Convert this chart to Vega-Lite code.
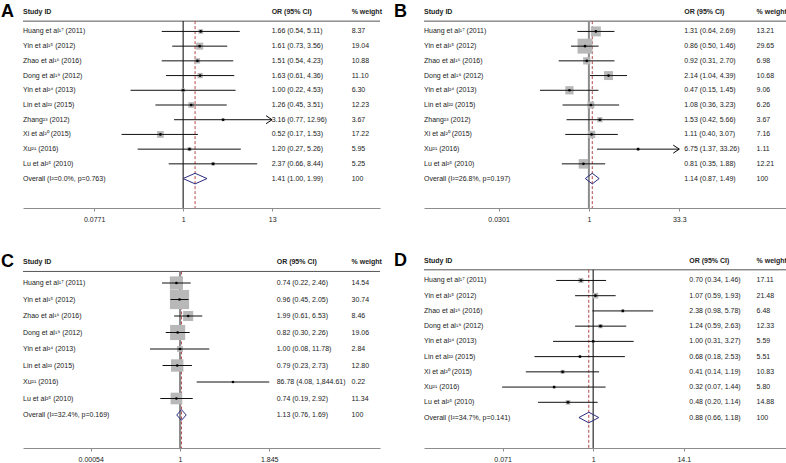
{
"$schema": "https://vega.github.io/schema/vega-lite/v6.json",
"padding": {"left": 1, "top": 2, "right": 0, "bottom": 0},
"background": "white",
"config": {
  "view": {"stroke": null},
  "font": "Liberation Sans",
  "axis": {"grid": false},
  "axisX": {"domainColor": "#8c8c8c", "tickColor": "#8c8c8c", "tickSize": 3, "labelFontSize": 7, "labelColor": "#222", "labelPadding": 4, "labelFont": "Liberation Sans", "labelOverlap": false, "labelFlush": false},
  "axisY": {"disable": true},
  "text": {"font": "Liberation Sans", "fontSize": 7, "color": "#222", "baseline": "middle"}
},
"datasets": {
  "A": [
    {"study": "Huang et al¹⁷ (2011)", "row": 1, "or": 1.66, "lo": 0.54, "hi": 5.11, "ci": "1.66 (0.54, 5.11)", "weight": 8.37, "wt": "8.37", "type": "study"},
    {"study": "Yin et al¹⁵ (2012)", "row": 2, "or": 1.61, "lo": 0.73, "hi": 3.56, "ci": "1.61 (0.73, 3.56)", "weight": 19.04, "wt": "19.04", "type": "study"},
    {"study": "Zhao et al¹⁶ (2016)", "row": 3, "or": 1.51, "lo": 0.54, "hi": 4.23, "ci": "1.51 (0.54, 4.23)", "weight": 10.88, "wt": "10.88", "type": "study"},
    {"study": "Dong et al¹⁹ (2012)", "row": 4, "or": 1.63, "lo": 0.61, "hi": 4.36, "ci": "1.63 (0.61, 4.36)", "weight": 11.10, "wt": "11.10", "type": "study"},
    {"study": "Yin et al²⁴ (2013)", "row": 5, "or": 1.00, "lo": 0.22, "hi": 4.53, "ci": "1.00 (0.22, 4.53)", "weight": 6.30, "wt": "6.30", "type": "study"},
    {"study": "Lin et al²² (2015)", "row": 6, "or": 1.26, "lo": 0.45, "hi": 3.51, "ci": "1.26 (0.45, 3.51)", "weight": 12.23, "wt": "12.23", "type": "study"},
    {"study": "Zhang²³ (2012)", "row": 7, "or": 3.16, "lo": 0.77, "hi": 12.96, "ci": "3.16 (0.77, 12.96)", "weight": 3.67, "wt": "3.67", "type": "study"},
    {"study": "Xi et al²⁰ (2015)", "row": 8, "or": 0.52, "lo": 0.17, "hi": 1.53, "ci": "0.52 (0.17, 1.53)", "weight": 17.22, "wt": "17.22", "type": "study"},
    {"study": "Xu²¹ (2016)", "row": 9, "or": 1.20, "lo": 0.27, "hi": 5.26, "ci": "1.20 (0.27, 5.26)", "weight": 5.95, "wt": "5.95", "type": "study"},
    {"study": "Lu et al²⁵ (2010)", "row": 10, "or": 2.37, "lo": 0.66, "hi": 8.44, "ci": "2.37 (0.66, 8.44)", "weight": 5.25, "wt": "5.25", "type": "study"},
    {"study": "Overall (I²=0.0%, p=0.763)", "row": 11, "or": 1.41, "lo": 1.00, "hi": 1.99, "ci": "1.41 (1.00, 1.99)", "weight": 100, "wt": "100", "type": "overall"}
  ],
  "B": [
    {"study": "Huang et al¹⁷ (2011)", "row": 1, "or": 1.31, "lo": 0.64, "hi": 2.69, "ci": "1.31 (0.64, 2.69)", "weight": 13.21, "wt": "13.21", "type": "study"},
    {"study": "Yin et al¹⁵ (2012)", "row": 2, "or": 0.86, "lo": 0.50, "hi": 1.46, "ci": "0.86 (0.50, 1.46)", "weight": 29.65, "wt": "29.65", "type": "study"},
    {"study": "Zhao et al¹⁶ (2016)", "row": 3, "or": 0.92, "lo": 0.31, "hi": 2.70, "ci": "0.92 (0.31, 2.70)", "weight": 6.98, "wt": "6.98", "type": "study"},
    {"study": "Dong et al¹⁹ (2012)", "row": 4, "or": 2.14, "lo": 1.04, "hi": 4.39, "ci": "2.14 (1.04, 4.39)", "weight": 10.68, "wt": "10.68", "type": "study"},
    {"study": "Yin et al²⁴ (2013)", "row": 5, "or": 0.47, "lo": 0.15, "hi": 1.45, "ci": "0.47 (0.15, 1.45)", "weight": 9.06, "wt": "9.06", "type": "study"},
    {"study": "Lin et al²² (2015)", "row": 6, "or": 1.08, "lo": 0.36, "hi": 3.23, "ci": "1.08 (0.36, 3.23)", "weight": 6.26, "wt": "6.26", "type": "study"},
    {"study": "Zhang²³ (2012)", "row": 7, "or": 1.53, "lo": 0.42, "hi": 5.66, "ci": "1.53 (0.42, 5.66)", "weight": 3.67, "wt": "3.67", "type": "study"},
    {"study": "Xi et al²⁰ (2015)", "row": 8, "or": 1.11, "lo": 0.40, "hi": 3.07, "ci": "1.11 (0.40, 3.07)", "weight": 7.16, "wt": "7.16", "type": "study"},
    {"study": "Xu²¹ (2016)", "row": 9, "or": 6.75, "lo": 1.37, "hi": 33.26, "ci": "6.75 (1.37, 33.26)", "weight": 1.11, "wt": "1.11", "type": "study"},
    {"study": "Lu et al²⁵ (2010)", "row": 10, "or": 0.81, "lo": 0.35, "hi": 1.88, "ci": "0.81 (0.35, 1.88)", "weight": 12.21, "wt": "12.21", "type": "study"},
    {"study": "Overall (I²=26.8%, p=0.197)", "row": 11, "or": 1.14, "lo": 0.87, "hi": 1.49, "ci": "1.14 (0.87, 1.49)", "weight": 100, "wt": "100", "type": "overall"}
  ],
  "C": [
    {"study": "Huang et al¹⁷ (2011)", "row": 1, "or": 0.74, "lo": 0.22, "hi": 2.46, "ci": "0.74 (0.22, 2.46)", "weight": 14.54, "wt": "14.54", "type": "study"},
    {"study": "Yin et al¹⁵ (2012)", "row": 2, "or": 0.96, "lo": 0.45, "hi": 2.05, "ci": "0.96 (0.45, 2.05)", "weight": 30.74, "wt": "30.74", "type": "study"},
    {"study": "Zhao et al¹⁶ (2016)", "row": 3, "or": 1.99, "lo": 0.61, "hi": 6.53, "ci": "1.99 (0.61, 6.53)", "weight": 8.46, "wt": "8.46", "type": "study"},
    {"study": "Dong et al¹⁹ (2012)", "row": 4, "or": 0.82, "lo": 0.30, "hi": 2.26, "ci": "0.82 (0.30, 2.26)", "weight": 19.06, "wt": "19.06", "type": "study"},
    {"study": "Yin et al²⁴ (2013)", "row": 5, "or": 1.00, "lo": 0.08, "hi": 11.78, "ci": "1.00 (0.08, 11.78)", "weight": 2.84, "wt": "2.84", "type": "study"},
    {"study": "Lin et al²² (2015)", "row": 6, "or": 0.79, "lo": 0.23, "hi": 2.73, "ci": "0.79 (0.23, 2.73)", "weight": 12.80, "wt": "12.80", "type": "study"},
    {"study": "Xu²¹ (2016)", "row": 7, "or": 86.78, "lo": 4.08, "hi": 1844.61, "ci": "86.78 (4.08, 1,844.61)", "weight": 0.22, "wt": "0.22", "type": "study"},
    {"study": "Lu et al²⁵ (2010)", "row": 8, "or": 0.74, "lo": 0.19, "hi": 2.92, "ci": "0.74 (0.19, 2.92)", "weight": 11.34, "wt": "11.34", "type": "study"},
    {"study": "Overall (I²=32.4%, p=0.169)", "row": 9, "or": 1.13, "lo": 0.76, "hi": 1.69, "ci": "1.13 (0.76, 1.69)", "weight": 100, "wt": "100", "type": "overall"}
  ],
  "D": [
    {"study": "Huang et al¹⁷ (2011)", "row": 1, "or": 0.70, "lo": 0.34, "hi": 1.46, "ci": "0.70 (0.34, 1.46)", "weight": 17.11, "wt": "17.11", "type": "study"},
    {"study": "Yin et al¹⁵ (2012)", "row": 2, "or": 1.07, "lo": 0.59, "hi": 1.93, "ci": "1.07 (0.59, 1.93)", "weight": 21.48, "wt": "21.48", "type": "study"},
    {"study": "Zhao et al¹⁶ (2016)", "row": 3, "or": 2.38, "lo": 0.98, "hi": 5.78, "ci": "2.38 (0.98, 5.78)", "weight": 6.48, "wt": "6.48", "type": "study"},
    {"study": "Dong et al¹⁹ (2012)", "row": 4, "or": 1.24, "lo": 0.59, "hi": 2.63, "ci": "1.24 (0.59, 2.63)", "weight": 12.33, "wt": "12.33", "type": "study"},
    {"study": "Yin et al²⁴ (2013)", "row": 5, "or": 1.00, "lo": 0.31, "hi": 3.27, "ci": "1.00 (0.31, 3.27)", "weight": 5.59, "wt": "5.59", "type": "study"},
    {"study": "Lin et al²² (2015)", "row": 6, "or": 0.68, "lo": 0.18, "hi": 2.53, "ci": "0.68 (0.18, 2.53)", "weight": 5.51, "wt": "5.51", "type": "study"},
    {"study": "Xi et al²⁰ (2015)", "row": 7, "or": 0.41, "lo": 0.14, "hi": 1.19, "ci": "0.41 (0.14, 1.19)", "weight": 10.83, "wt": "10.83", "type": "study"},
    {"study": "Xu²¹ (2016)", "row": 8, "or": 0.32, "lo": 0.07, "hi": 1.44, "ci": "0.32 (0.07, 1.44)", "weight": 5.80, "wt": "5.80", "type": "study"},
    {"study": "Lu et al²⁵ (2010)", "row": 9, "or": 0.48, "lo": 0.20, "hi": 1.14, "ci": "0.48 (0.20, 1.14)", "weight": 14.88, "wt": "14.88", "type": "study"},
    {"study": "Overall (I²=34.7%, p=0.141)", "row": 10, "or": 0.88, "lo": 0.66, "hi": 1.18, "ci": "0.88 (0.66, 1.18)", "weight": 100, "wt": "100", "type": "overall"}
  ]
},
"spacing": 28,
"resolve": {"scale": {"size": "independent"}},
"vconcat": [
 {"spacing": 12, "resolve": {"scale": {"size": "independent"}}, "hconcat": [
  {"width": 357, "height": 206,
   "data": {"name": "A"},
   "layer": [
    {"data": {"values": [{}]}, "mark": {"type": "rule", "color": "#555", "strokeWidth": 1},
     "encoding": {"y": {"datum": 0.3, "type": "quantitative", "scale": {"domain": [-1, 13], "reverse": true, "nice": false, "zero": false}}}},
    {"data": {"values": [{}]}, "mark": {"type": "rule", "color": "#000", "strokeWidth": 1},
     "encoding": {"x": {"datum": 1, "type": "quantitative", "scale": {"type": "log", "domain": [0.00994, 289.7], "nice": false}, "axis": {"values": [0.0771, 1, 13], "format": ",", "title": null}},
       "y": {"datum": 0.3, "type": "quantitative"}, "y2": {"datum": 13}}},
    {"transform": [{"filter": "datum.type == 'overall'"}], "mark": {"type": "rule", "color": "#b5484a", "strokeDash": [3, 2], "strokeWidth": 1},
     "encoding": {"x": {"field": "or", "type": "quantitative"}, "y": {"datum": 0.3, "type": "quantitative"}, "y2": {"datum": 13}}},
    {"transform": [{"filter": "datum.type == 'study'"}], "mark": {"type": "square", "color": "#b8b8b8", "opacity": 1},
     "encoding": {"x": {"field": "or", "type": "quantitative"}, "y": {"field": "row", "type": "quantitative"}, "size": {"field": "weight", "type": "quantitative", "scale": {"domain": [0, 100], "range": [0, 260]}, "legend": null}}},
    {"transform": [{"filter": "datum.type == 'study'"}], "mark": {"type": "rule", "color": "#111", "strokeWidth": 1},
     "encoding": {"x": {"field": "lo", "type": "quantitative"}, "x2": {"field": "hi"}, "y": {"field": "row", "type": "quantitative"}}},
    {"transform": [{"filter": "datum.type == 'study'"}], "mark": {"type": "circle", "color": "#000", "size": 7, "opacity": 1},
     "encoding": {"x": {"field": "or", "type": "quantitative"}, "y": {"field": "row", "type": "quantitative"}}},
    {"transform": [{"filter": "datum.type == 'study' && datum.hi > 12.9"}], "mark": {"type": "point", "shape": "M-1.5,-1L0,0L-1.5,1", "size": 64, "filled": false, "color": "#000", "strokeWidth": 1, "opacity": 1},
     "encoding": {"x": {"field": "hi", "type": "quantitative"}, "y": {"field": "row", "type": "quantitative"}}},
    {"transform": [{"filter": "datum.type == 'overall'"}], "mark": {"type": "rule", "color": "#2b2b80", "y2Offset": -5.3},
     "encoding": {"x": {"field": "lo", "type": "quantitative"}, "x2": {"field": "or"}, "y": {"field": "row", "type": "quantitative"}, "y2": {"field": "row"}}},
    {"transform": [{"filter": "datum.type == 'overall'"}], "mark": {"type": "rule", "color": "#2b2b80", "y2Offset": 5.3},
     "encoding": {"x": {"field": "lo", "type": "quantitative"}, "x2": {"field": "or"}, "y": {"field": "row", "type": "quantitative"}, "y2": {"field": "row"}}},
    {"transform": [{"filter": "datum.type == 'overall'"}], "mark": {"type": "rule", "color": "#2b2b80", "yOffset": -5.3},
     "encoding": {"x": {"field": "or", "type": "quantitative"}, "x2": {"field": "hi"}, "y": {"field": "row", "type": "quantitative"}, "y2": {"field": "row"}}},
    {"transform": [{"filter": "datum.type == 'overall'"}], "mark": {"type": "rule", "color": "#2b2b80", "yOffset": 5.3},
     "encoding": {"x": {"field": "or", "type": "quantitative"}, "x2": {"field": "hi"}, "y": {"field": "row", "type": "quantitative"}, "y2": {"field": "row"}}},
    {"mark": {"type": "text", "align": "left"},
     "encoding": {"x": {"datum": 0.00994, "type": "quantitative"}, "y": {"field": "row", "type": "quantitative"}, "text": {"field": "study"}}},
    {"mark": {"type": "text", "align": "left"},
     "encoding": {"x": {"datum": 12.8, "type": "quantitative"}, "y": {"field": "row", "type": "quantitative"}, "text": {"field": "ci"}}},
    {"mark": {"type": "text", "align": "left"},
     "encoding": {"x": {"datum": 128, "type": "quantitative"}, "y": {"field": "row", "type": "quantitative"}, "text": {"field": "wt"}}},
    {"data": {"values": [{}]}, "mark": {"type": "text", "align": "left", "fontWeight": "bold"},
     "encoding": {"x": {"datum": 0.00994, "type": "quantitative"}, "y": {"datum": -0.3, "type": "quantitative"}, "text": {"value": "Study ID"}}},
    {"data": {"values": [{}]}, "mark": {"type": "text", "align": "left", "fontWeight": "bold"},
     "encoding": {"x": {"datum": 12.8, "type": "quantitative"}, "y": {"datum": -0.3, "type": "quantitative"}, "text": {"value": "OR (95% CI)"}}},
    {"data": {"values": [{}]}, "mark": {"type": "text", "align": "left", "fontWeight": "bold"},
     "encoding": {"x": {"datum": 128, "type": "quantitative"}, "y": {"datum": -0.3, "type": "quantitative"}, "text": {"value": "% weight"}}},
    {"data": {"values": [{}]}, "mark": {"type": "text", "align": "left", "fontWeight": "bold", "fontSize": 18, "color": "#000", "dx": -22},
     "encoding": {"x": {"datum": 0.00994, "type": "quantitative"}, "y": {"datum": -0.3, "type": "quantitative"}, "text": {"value": "A"}}}
   ]},
  {"width": 362, "height": 206,
   "data": {"name": "B"},
   "layer": [
    {"data": {"values": [{}]}, "mark": {"type": "rule", "color": "#555", "strokeWidth": 1},
     "encoding": {"y": {"datum": 0.3, "type": "quantitative", "scale": {"domain": [-1, 13], "reverse": true, "nice": false, "zero": false}}}},
    {"data": {"values": [{}]}, "mark": {"type": "rule", "color": "#8c8c8c", "strokeWidth": 2},
     "encoding": {"x": {"datum": 1, "type": "quantitative", "scale": {"type": "log", "domain": [0.00167, 2088], "nice": false}, "axis": {"values": [0.0301, 1, 33.3], "format": ",", "title": null}},
       "y": {"datum": 0.3, "type": "quantitative"}, "y2": {"datum": 13}}},
    {"transform": [{"filter": "datum.type == 'overall'"}], "mark": {"type": "rule", "color": "#b5484a", "strokeDash": [3, 2], "strokeWidth": 1},
     "encoding": {"x": {"field": "or", "type": "quantitative"}, "y": {"datum": 0.3, "type": "quantitative"}, "y2": {"datum": 13}}},
    {"transform": [{"filter": "datum.type == 'study'"}], "mark": {"type": "square", "color": "#b8b8b8", "opacity": 1},
     "encoding": {"x": {"field": "or", "type": "quantitative"}, "y": {"field": "row", "type": "quantitative"}, "size": {"field": "weight", "type": "quantitative", "scale": {"domain": [0, 100], "range": [0, 750]}, "legend": null}}},
    {"transform": [{"filter": "datum.type == 'study'"}], "mark": {"type": "rule", "color": "#111", "strokeWidth": 1},
     "encoding": {"x": {"field": "lo", "type": "quantitative"}, "x2": {"field": "hi"}, "y": {"field": "row", "type": "quantitative"}}},
    {"transform": [{"filter": "datum.type == 'study'"}], "mark": {"type": "circle", "color": "#000", "size": 7, "opacity": 1},
     "encoding": {"x": {"field": "or", "type": "quantitative"}, "y": {"field": "row", "type": "quantitative"}}},
    {"transform": [{"filter": "datum.type == 'study' && datum.hi > 33"}], "mark": {"type": "point", "shape": "M-1.5,-1L0,0L-1.5,1", "size": 64, "filled": false, "color": "#000", "strokeWidth": 1, "opacity": 1},
     "encoding": {"x": {"field": "hi", "type": "quantitative"}, "y": {"field": "row", "type": "quantitative"}}},
    {"transform": [{"filter": "datum.type == 'overall'"}], "mark": {"type": "rule", "color": "#2b2b80", "y2Offset": -5.3},
     "encoding": {"x": {"field": "lo", "type": "quantitative"}, "x2": {"field": "or"}, "y": {"field": "row", "type": "quantitative"}, "y2": {"field": "row"}}},
    {"transform": [{"filter": "datum.type == 'overall'"}], "mark": {"type": "rule", "color": "#2b2b80", "y2Offset": 5.3},
     "encoding": {"x": {"field": "lo", "type": "quantitative"}, "x2": {"field": "or"}, "y": {"field": "row", "type": "quantitative"}, "y2": {"field": "row"}}},
    {"transform": [{"filter": "datum.type == 'overall'"}], "mark": {"type": "rule", "color": "#2b2b80", "yOffset": -5.3},
     "encoding": {"x": {"field": "or", "type": "quantitative"}, "x2": {"field": "hi"}, "y": {"field": "row", "type": "quantitative"}, "y2": {"field": "row"}}},
    {"transform": [{"filter": "datum.type == 'overall'"}], "mark": {"type": "rule", "color": "#2b2b80", "yOffset": 5.3},
     "encoding": {"x": {"field": "or", "type": "quantitative"}, "x2": {"field": "hi"}, "y": {"field": "row", "type": "quantitative"}, "y2": {"field": "row"}}},
    {"mark": {"type": "text", "align": "left"},
     "encoding": {"x": {"datum": 0.00167, "type": "quantitative"}, "y": {"field": "row", "type": "quantitative"}, "text": {"field": "study"}}},
    {"mark": {"type": "text", "align": "left"},
     "encoding": {"x": {"datum": 40.4, "type": "quantitative"}, "y": {"field": "row", "type": "quantitative"}, "text": {"field": "ci"}}},
    {"mark": {"type": "text", "align": "left"},
     "encoding": {"x": {"datum": 667, "type": "quantitative"}, "y": {"field": "row", "type": "quantitative"}, "text": {"field": "wt"}}},
    {"data": {"values": [{}]}, "mark": {"type": "text", "align": "left", "fontWeight": "bold"},
     "encoding": {"x": {"datum": 0.00167, "type": "quantitative"}, "y": {"datum": -0.3, "type": "quantitative"}, "text": {"value": "Study ID"}}},
    {"data": {"values": [{}]}, "mark": {"type": "text", "align": "left", "fontWeight": "bold"},
     "encoding": {"x": {"datum": 40.4, "type": "quantitative"}, "y": {"datum": -0.3, "type": "quantitative"}, "text": {"value": "OR (95% CI)"}}},
    {"data": {"values": [{}]}, "mark": {"type": "text", "align": "left", "fontWeight": "bold"},
     "encoding": {"x": {"datum": 667, "type": "quantitative"}, "y": {"datum": -0.3, "type": "quantitative"}, "text": {"value": "% weight"}}},
    {"data": {"values": [{}]}, "mark": {"type": "text", "align": "left", "fontWeight": "bold", "fontSize": 18, "color": "#000", "dx": -30},
     "encoding": {"x": {"datum": 0.00167, "type": "quantitative"}, "y": {"datum": -0.3, "type": "quantitative"}, "text": {"value": "B"}}}
   ]}
 ]},
 {"spacing": 12, "resolve": {"scale": {"size": "independent"}}, "hconcat": [
  {"width": 357, "height": 198,
   "data": {"name": "C"},
   "layer": [
    {"data": {"values": [{}]}, "mark": {"type": "rule", "color": "#555", "strokeWidth": 1},
     "encoding": {"y": {"datum": 0.3, "type": "quantitative", "scale": {"domain": [-1, 11], "reverse": true, "nice": false, "zero": false}}}},
    {"data": {"values": [{}]}, "mark": {"type": "rule", "color": "#8c8c8c", "strokeWidth": 2},
     "encoding": {"x": {"datum": 1, "type": "quantitative", "scale": {"type": "log", "domain": [0.0000018, 20800000], "nice": false}, "axis": {"values": [0.00054, 1, 1845], "format": ",", "title": null}},
       "y": {"datum": 0.3, "type": "quantitative"}, "y2": {"datum": 11}}},
    {"transform": [{"filter": "datum.type == 'overall'"}], "mark": {"type": "rule", "color": "#b5484a", "strokeDash": [3, 2], "strokeWidth": 1},
     "encoding": {"x": {"field": "or", "type": "quantitative"}, "y": {"datum": 0.3, "type": "quantitative"}, "y2": {"datum": 11}}},
    {"transform": [{"filter": "datum.type == 'study'"}], "mark": {"type": "square", "color": "#b8b8b8", "opacity": 1},
     "encoding": {"x": {"field": "or", "type": "quantitative"}, "y": {"field": "row", "type": "quantitative"}, "size": {"field": "weight", "type": "quantitative", "scale": {"domain": [0, 100], "range": [0, 1200]}, "legend": null}}},
    {"transform": [{"filter": "datum.type == 'study'"}], "mark": {"type": "rule", "color": "#111", "strokeWidth": 1},
     "encoding": {"x": {"field": "lo", "type": "quantitative"}, "x2": {"field": "hi"}, "y": {"field": "row", "type": "quantitative"}}},
    {"transform": [{"filter": "datum.type == 'study'"}], "mark": {"type": "circle", "color": "#000", "size": 7, "opacity": 1},
     "encoding": {"x": {"field": "or", "type": "quantitative"}, "y": {"field": "row", "type": "quantitative"}}},
    {"transform": [{"filter": "datum.type == 'overall'"}], "mark": {"type": "rule", "color": "#2b2b80", "y2Offset": -5.3},
     "encoding": {"x": {"field": "lo", "type": "quantitative"}, "x2": {"field": "or"}, "y": {"field": "row", "type": "quantitative"}, "y2": {"field": "row"}}},
    {"transform": [{"filter": "datum.type == 'overall'"}], "mark": {"type": "rule", "color": "#2b2b80", "y2Offset": 5.3},
     "encoding": {"x": {"field": "lo", "type": "quantitative"}, "x2": {"field": "or"}, "y": {"field": "row", "type": "quantitative"}, "y2": {"field": "row"}}},
    {"transform": [{"filter": "datum.type == 'overall'"}], "mark": {"type": "rule", "color": "#2b2b80", "yOffset": -5.3},
     "encoding": {"x": {"field": "or", "type": "quantitative"}, "x2": {"field": "hi"}, "y": {"field": "row", "type": "quantitative"}, "y2": {"field": "row"}}},
    {"transform": [{"filter": "datum.type == 'overall'"}], "mark": {"type": "rule", "color": "#2b2b80", "yOffset": 5.3},
     "encoding": {"x": {"field": "or", "type": "quantitative"}, "x2": {"field": "hi"}, "y": {"field": "row", "type": "quantitative"}, "y2": {"field": "row"}}},
    {"mark": {"type": "text", "align": "left"},
     "encoding": {"x": {"datum": 0.0000018, "type": "quantitative"}, "y": {"field": "row", "type": "quantitative"}, "text": {"field": "study"}}},
    {"mark": {"type": "text", "align": "left"},
     "encoding": {"x": {"datum": 3451, "type": "quantitative"}, "y": {"field": "row", "type": "quantitative"}, "text": {"field": "ci"}}},
    {"mark": {"type": "text", "align": "left"},
     "encoding": {"x": {"datum": 1900000, "type": "quantitative"}, "y": {"field": "row", "type": "quantitative"}, "text": {"field": "wt"}}},
    {"data": {"values": [{}]}, "mark": {"type": "text", "align": "left", "fontWeight": "bold"},
     "encoding": {"x": {"datum": 0.0000018, "type": "quantitative"}, "y": {"datum": -0.3, "type": "quantitative"}, "text": {"value": "Study ID"}}},
    {"data": {"values": [{}]}, "mark": {"type": "text", "align": "left", "fontWeight": "bold"},
     "encoding": {"x": {"datum": 3451, "type": "quantitative"}, "y": {"datum": -0.3, "type": "quantitative"}, "text": {"value": "OR (95% CI)"}}},
    {"data": {"values": [{}]}, "mark": {"type": "text", "align": "left", "fontWeight": "bold"},
     "encoding": {"x": {"datum": 1900000, "type": "quantitative"}, "y": {"datum": -0.3, "type": "quantitative"}, "text": {"value": "% weight"}}},
    {"data": {"values": [{}]}, "mark": {"type": "text", "align": "left", "fontWeight": "bold", "fontSize": 18, "color": "#000", "dx": -22},
     "encoding": {"x": {"datum": 0.0000018, "type": "quantitative"}, "y": {"datum": -0.3, "type": "quantitative"}, "text": {"value": "C"}}}
   ]},
  {"width": 362, "height": 198,
   "data": {"name": "D"},
   "layer": [
    {"data": {"values": [{}]}, "mark": {"type": "rule", "color": "#555", "strokeWidth": 1},
     "encoding": {"y": {"datum": 0.3, "type": "quantitative", "scale": {"domain": [-1, 12], "reverse": true, "nice": false, "zero": false}}}},
    {"data": {"values": [{}]}, "mark": {"type": "rule", "color": "#000", "strokeWidth": 1},
     "encoding": {"x": {"datum": 1, "type": "quantitative", "scale": {"type": "log", "domain": [0.00714, 280], "nice": false}, "axis": {"values": [0.071, 1, 14.1], "format": ",", "title": null}},
       "y": {"datum": 0.3, "type": "quantitative"}, "y2": {"datum": 12}}},
    {"transform": [{"filter": "datum.type == 'overall'"}], "mark": {"type": "rule", "color": "#b5484a", "strokeDash": [3, 2], "strokeWidth": 1},
     "encoding": {"x": {"field": "or", "type": "quantitative"}, "y": {"datum": 0.3, "type": "quantitative"}, "y2": {"datum": 12}}},
    {"transform": [{"filter": "datum.type == 'study'"}], "mark": {"type": "square", "color": "#b8b8b8", "opacity": 1},
     "encoding": {"x": {"field": "or", "type": "quantitative"}, "y": {"field": "row", "type": "quantitative"}, "size": {"field": "weight", "type": "quantitative", "scale": {"domain": [0, 100], "range": [0, 150]}, "legend": null}}},
    {"transform": [{"filter": "datum.type == 'study'"}], "mark": {"type": "rule", "color": "#111", "strokeWidth": 1},
     "encoding": {"x": {"field": "lo", "type": "quantitative"}, "x2": {"field": "hi"}, "y": {"field": "row", "type": "quantitative"}}},
    {"transform": [{"filter": "datum.type == 'study'"}], "mark": {"type": "circle", "color": "#000", "size": 7, "opacity": 1},
     "encoding": {"x": {"field": "or", "type": "quantitative"}, "y": {"field": "row", "type": "quantitative"}}},
    {"transform": [{"filter": "datum.type == 'overall'"}], "mark": {"type": "rule", "color": "#2b2b80", "y2Offset": -5.3},
     "encoding": {"x": {"field": "lo", "type": "quantitative"}, "x2": {"field": "or"}, "y": {"field": "row", "type": "quantitative"}, "y2": {"field": "row"}}},
    {"transform": [{"filter": "datum.type == 'overall'"}], "mark": {"type": "rule", "color": "#2b2b80", "y2Offset": 5.3},
     "encoding": {"x": {"field": "lo", "type": "quantitative"}, "x2": {"field": "or"}, "y": {"field": "row", "type": "quantitative"}, "y2": {"field": "row"}}},
    {"transform": [{"filter": "datum.type == 'overall'"}], "mark": {"type": "rule", "color": "#2b2b80", "yOffset": -5.3},
     "encoding": {"x": {"field": "or", "type": "quantitative"}, "x2": {"field": "hi"}, "y": {"field": "row", "type": "quantitative"}, "y2": {"field": "row"}}},
    {"transform": [{"filter": "datum.type == 'overall'"}], "mark": {"type": "rule", "color": "#2b2b80", "yOffset": 5.3},
     "encoding": {"x": {"field": "or", "type": "quantitative"}, "x2": {"field": "hi"}, "y": {"field": "row", "type": "quantitative"}, "y2": {"field": "row"}}},
    {"mark": {"type": "text", "align": "left"},
     "encoding": {"x": {"datum": 0.00714, "type": "quantitative"}, "y": {"field": "row", "type": "quantitative"}, "text": {"field": "study"}}},
    {"mark": {"type": "text", "align": "left"},
     "encoding": {"x": {"datum": 16.6, "type": "quantitative"}, "y": {"field": "row", "type": "quantitative"}, "text": {"field": "ci"}}},
    {"mark": {"type": "text", "align": "left"},
     "encoding": {"x": {"datum": 118.5, "type": "quantitative"}, "y": {"field": "row", "type": "quantitative"}, "text": {"field": "wt"}}},
    {"data": {"values": [{}]}, "mark": {"type": "text", "align": "left", "fontWeight": "bold"},
     "encoding": {"x": {"datum": 0.00714, "type": "quantitative"}, "y": {"datum": -0.3, "type": "quantitative"}, "text": {"value": "Study ID"}}},
    {"data": {"values": [{}]}, "mark": {"type": "text", "align": "left", "fontWeight": "bold"},
     "encoding": {"x": {"datum": 16.6, "type": "quantitative"}, "y": {"datum": -0.3, "type": "quantitative"}, "text": {"value": "OR (95% CI)"}}},
    {"data": {"values": [{}]}, "mark": {"type": "text", "align": "left", "fontWeight": "bold"},
     "encoding": {"x": {"datum": 118.5, "type": "quantitative"}, "y": {"datum": -0.3, "type": "quantitative"}, "text": {"value": "% weight"}}},
    {"data": {"values": [{}]}, "mark": {"type": "text", "align": "left", "fontWeight": "bold", "fontSize": 18, "color": "#000", "dx": -30},
     "encoding": {"x": {"datum": 0.00714, "type": "quantitative"}, "y": {"datum": -0.3, "type": "quantitative"}, "text": {"value": "D"}}}
   ]}
 ]}
]
}
